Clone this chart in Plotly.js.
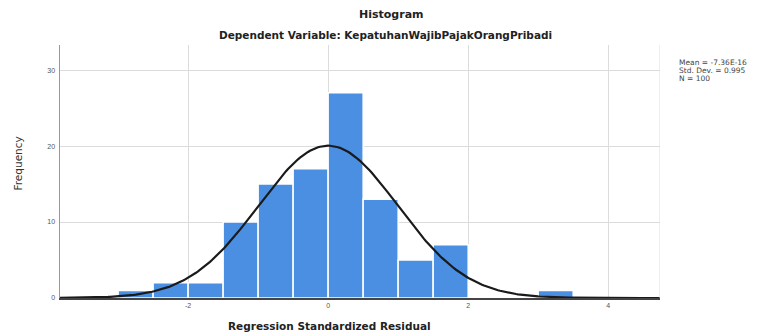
<!DOCTYPE html>
<html>
<head>
<meta charset="utf-8">
<script src="https://cdn.plot.ly/plotly-3.0.1.min.js"></script>
<style>html,body{margin:0;padding:0;background:#fff;}#chart{width:763px;height:336px;}</style>
</head>
<body>
<div id="chart"></div>
<script>
// Histogram bins (lower edges) and frequencies
const binStarts = [-3.0, -2.5, -2.0, -1.5, -1.0, -0.5, 0.0, 0.5, 1.0, 1.5, 3.0];
const counts    = [1, 2, 2, 10, 15, 17, 27, 13, 5, 7, 1];
const binWidth = 0.5;
// Fit statistics shown in the legend
const meanVal = -7.36e-16;
const sdVal = 0.995;
const nVal = 100;
const statLabels = ["Mean = -7.36E-16", "Std. Dev. = 0.995", "N = 100"];
const xTicks = [-2, 0, 2, 4];
const yTicks = [0, 10, 20, 30];

const centers = binStarts.map(b => b + binWidth / 2);

// Normal curve from the fitted mean / std. dev.
const xr = [-3.83, 4.74];
const cx = [], cy = [];
for (let i = 0; i <= 300; i++) {
  const x = xr[0] + (xr[1] - xr[0]) * i / 300;
  const z = (x - meanVal) / sdVal;
  cx.push(x);
  cy.push(nVal * binWidth * Math.exp(-0.5 * z * z) / (sdVal * Math.sqrt(2 * Math.PI)));
}

const data = [
  {type: 'bar', x: centers, y: counts, width: binWidth,
   marker: {color: '#4a8fe2', line: {color: '#ffffff', width: 1.5}}, hoverinfo: 'x+y'},
  {type: 'scatter', mode: 'lines', x: cx, y: cy, line: {color: '#1a1a1a', width: 2.2}, hoverinfo: 'skip'}
];

const boldFont = 'DejaVu Sans, Verdana, sans-serif';
const statAnn = statLabels.map((t, i) => ({
  text: t, xref: 'paper', yref: 'paper', x: 1.0, xshift: 17, y: 1.0, yshift: -17 - i * 8,
  showarrow: false, xanchor: 'left', yanchor: 'middle', align: 'left',
  font: {family: boldFont, size: 7.5, color: '#444'}
}));

const layout = {
  width: 763, height: 336,
  margin: {l: 60, r: 103, t: 45, b: 38},
  paper_bgcolor: '#ffffff', plot_bgcolor: '#ffffff',
  showlegend: false,
  font: {family: 'Liberation Sans, Arial, sans-serif', color: '#222'},
  xaxis: {
    range: xr, tickvals: xTicks, ticktext: xTicks.map(String),
    showgrid: true, gridcolor: '#dcdcdc', gridwidth: 1,
    zeroline: false, showline: true, linecolor: '#444', linewidth: 2,
    ticks: '', tickfont: {size: 7, color: '#555'}
  },
  yaxis: {
    range: [0, 33.3], tickvals: yTicks, ticktext: yTicks.map(String),
    showgrid: true, gridcolor: '#dcdcdc', gridwidth: 1,
    zeroline: false, showline: true, linecolor: '#999', linewidth: 1.5,
    ticks: '', tickfont: {size: 7, color: '#555'}, ticklabelstandoff: 2
  },
  shapes: [
    {type: 'line', xref: 'x', yref: 'paper', x0: xr[1], x1: xr[1], y0: 0, y1: 1, line: {color: '#dcdcdc', width: 1}}
  ],
  annotations: [
    {text: '<b>Histogram</b>', xref: 'paper', yref: 'paper', x: 0.553, y: 1.0, yshift: 31,
     showarrow: false, xanchor: 'center', yanchor: 'middle', font: {family: boldFont, size: 11, color: '#222'}},
    {text: '<b>Dependent Variable: KepatuhanWajibPajakOrangPribadi</b>', xref: 'paper', yref: 'paper', x: 0.543, y: 1.0, yshift: 10,
     showarrow: false, xanchor: 'center', yanchor: 'middle', font: {family: boldFont, size: 10.5, color: '#222'}},
    {text: '<b>Regression Standardized Residual</b>', xref: 'x', yref: 'paper', x: 0.02, y: 0, yshift: -28,
     showarrow: false, xanchor: 'center', yanchor: 'middle', font: {family: boldFont, size: 10.5, color: '#222'}},
    {text: 'Frequency', xref: 'paper', yref: 'paper', x: 0, xshift: -43, y: 0.5, yshift: 8, textangle: -90,
     showarrow: false, xanchor: 'center', yanchor: 'middle', font: {family: boldFont, size: 10.5, color: '#333'}}
  ].concat(statAnn)
};

Plotly.newPlot('chart', data, layout, {displayModeBar: false, staticPlot: true});
</script>
</body>
</html>
